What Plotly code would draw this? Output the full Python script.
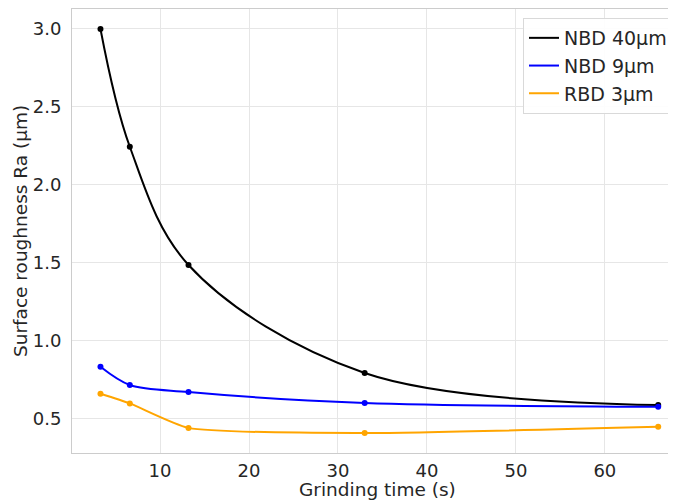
import plotly.graph_objects as go

time_s = [3.3, 6.6, 13.2, 33.0, 66.0]
nbd40 = [3.0, 2.245, 1.487, 0.795, 0.59]
nbd9 = [0.835, 0.718, 0.673, 0.603, 0.578]
rbd3 = [0.662, 0.60, 0.443, 0.41, 0.45]

series = [("NBD 40μm", nbd40, "#000000", 1.0),
          ("NBD 9μm", nbd9, "#0000ff", 0.9),
          ("RBD 3μm", rbd3, "#ffa500", 0.55)]

fig = go.Figure()
for name, vals, col, sm in series:
    fig.add_trace(go.Scatter(
        x=time_s, y=vals, name=name, mode="lines", legendgroup=name,
        line=dict(color=col, width=2, shape="spline", smoothing=sm),
    ))
    fig.add_trace(go.Scatter(
        x=time_s, y=vals, name=name, mode="markers", legendgroup=name,
        showlegend=False, marker=dict(color=col, size=6),
    ))

# the page body adds an 8px offset; figure geometry compensates for it
W, H = 668, 493
L, T, B = 64, 1, 48
PW, PH = W - L, H - T - B

font = "DejaVu Sans, sans-serif"
tc = "#262626"
fig.update_layout(
    width=W, height=H,
    margin=dict(l=L, r=0, t=T, b=B, autoexpand=False),
    paper_bgcolor="white", plot_bgcolor="white",
    font=dict(family=font, size=18, color=tc),
    showlegend=True,
    legend=dict(x=(665 - L) / PW, y=1 - (10 - T) / PH, xanchor="right", yanchor="top",
                bgcolor="rgba(255,255,255,0.9)", bordercolor="#d9d9d9", borderwidth=1,
                font=dict(size=19, family=font, color=tc),
                tracegroupgap=0),
    xaxis=dict(range=[0.1, 68.0], tickvals=[10, 20, 30, 40, 50, 60],
               showgrid=True, gridcolor="#e6e6e6", gridwidth=1,
               showline=True, linecolor="#cccccc", linewidth=1, mirror=True,
               zeroline=False, ticks="", automargin=False,
               tickfont=dict(size=18), ticklabelstandoff=1),
    yaxis=dict(range=[0.282, 3.128], tickvals=[0.5, 1.0, 1.5, 2.0, 2.5, 3.0],
               tickformat=".1f",
               showgrid=True, gridcolor="#e6e6e6", gridwidth=1,
               showline=True, linecolor="#cccccc", linewidth=1, mirror=True,
               zeroline=False, ticks="", automargin=False,
               tickfont=dict(size=18), ticklabelstandoff=6),
    annotations=[
        dict(text="Grinding time (s)", xref="paper", yref="paper",
             x=(369 - L) / PW, y=-(482 - (T + PH)) / PH,
             xanchor="center", yanchor="middle", showarrow=False,
             font=dict(size=18.5, family=font, color=tc)),
        dict(text="Surface roughness Ra (μm)", xref="paper", yref="paper",
             x=-(L - 12) / PW, y=0.5, textangle=-90,
             xanchor="center", yanchor="middle", showarrow=False,
             font=dict(size=18.5, family=font, color=tc)),
    ],
)

fig.write_html("out.html")
